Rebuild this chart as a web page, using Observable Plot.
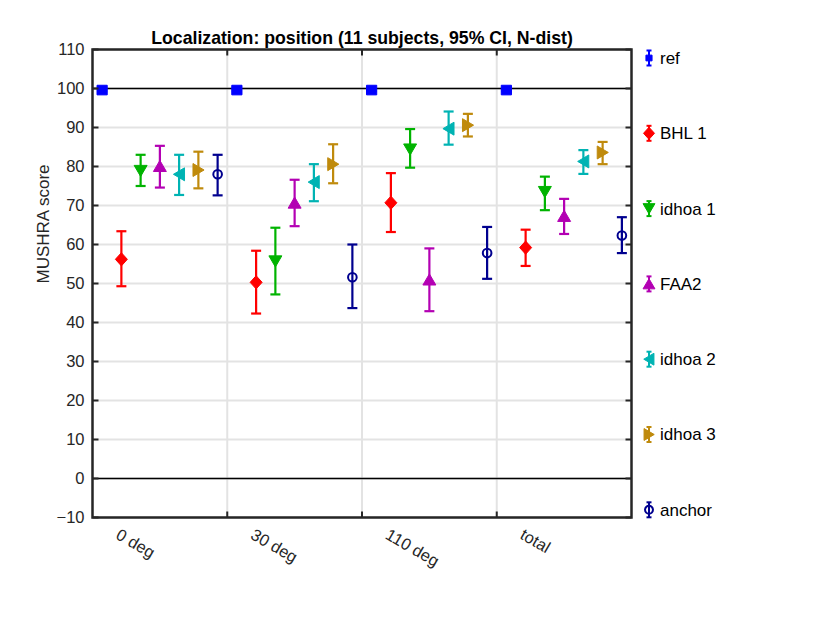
<!DOCTYPE html>
<html>
<head>
<meta charset="utf-8">
<script src="https://cdn.jsdelivr.net/npm/d3@7"></script>
<script src="https://cdn.jsdelivr.net/npm/@observablehq/plot@0.6"></script>
<style>
  html, body { margin: 0; padding: 0; background: #fff; }
  #chart svg { display: block; }
</style>
</head>
<body>
<div id="chart"></div>
<script>
// ---------- data ----------
const categories = ["0 deg", "30 deg", "110 deg", "total"];
const methods = ["ref", "BHL 1", "idhoa 1", "FAA2", "idhoa 2", "idhoa 3", "anchor"];
const colors = ["#0000ff", "#ff0000", "#00b300", "#b300b3", "#00b3b3", "#bf8a0c", "#00008f"];
const yTicks = [-10, 0, 10, 20, 30, 40, 50, 60, 70, 80, 90, 100, 110];

const refMean = [99.6, 99.6, 99.6, 99.6];
const refLo   = [99.3, 99.3, 99.3, 99.3];
const refHi   = [99.9, 99.9, 99.9, 99.9];

const bhl1Mean = [56.2, 50.3, 70.7, 59.2];
const bhl1Lo   = [49.3, 42.3, 63.2, 54.5];
const bhl1Hi   = [63.4, 58.4, 78.3, 63.8];

const idhoa1Mean = [78.9, 55.7, 84.4, 73.5];
const idhoa1Lo   = [75.0, 47.2, 79.7, 68.8];
const idhoa1Hi   = [83.0, 64.3, 89.6, 77.4];

const faa2Mean = [80.1, 70.7, 51.0, 67.3];
const faa2Lo   = [74.6, 64.7, 42.9, 62.7];
const faa2Hi   = [85.3, 76.6, 59.0, 71.7];

const idhoa2Mean = [78.0, 76.0, 89.7, 81.3];
const idhoa2Lo   = [72.7, 71.1, 85.6, 78.1];
const idhoa2Hi   = [83.0, 80.6, 94.1, 84.2];

const idhoa3Mean = [79.1, 80.6, 90.6, 83.6];
const idhoa3Lo   = [74.4, 75.7, 87.7, 80.6];
const idhoa3Hi   = [83.8, 85.7, 93.5, 86.3];

const anchorMean = [78.0, 51.6, 57.8, 62.3];
const anchorLo   = [72.6, 43.7, 51.2, 57.8];
const anchorHi   = [83.0, 60.0, 64.5, 67.0];

const series = [
  [refMean, refLo, refHi],
  [bhl1Mean, bhl1Lo, bhl1Hi],
  [idhoa1Mean, idhoa1Lo, idhoa1Hi],
  [faa2Mean, faa2Lo, faa2Hi],
  [idhoa2Mean, idhoa2Lo, idhoa2Hi],
  [idhoa3Mean, idhoa3Lo, idhoa3Hi],
  [anchorMean, anchorLo, anchorHi]
];

// ---------- symbols ----------
const poly = (pts) => ({
  draw(ctx, size) {
    const r = Math.sqrt(size / Math.PI);
    pts.forEach(([a, b], i) => i ? ctx.lineTo(a * r, b * r) : ctx.moveTo(a * r, b * r));
    ctx.closePath();
  }
});
const symSquare = poly([[-0.85, -0.8], [0.85, -0.8], [0.85, 0.8], [-0.85, 0.8]]);
const symDiamond = poly([[0, -1.1], [1.0, 0], [0, 1.1], [-1.0, 0]]);
const symTriDown = poly([[-1.08, -0.9], [1.08, -0.9], [0, 0.95]]);
const symTriUp = poly([[-1.08, 0.9], [1.08, 0.9], [0, -0.95]]);
const symTriLeft = poly([[0.9, -1.08], [0.9, 1.08], [-0.95, 0]]);
const symTriRight = poly([[-0.9, -1.08], [-0.9, 1.08], [0.95, 0]]);
const symCircle = {
  draw(ctx, size) {
    const r = Math.sqrt(size / Math.PI) * 0.72;
    ctx.moveTo(r, 0);
    ctx.arc(0, 0, r, 0, 2 * Math.PI);
  }
};
const symCap = {
  draw(ctx, size) {
    const r = Math.sqrt(size / Math.PI);
    ctx.moveTo(-r, 0);
    ctx.lineTo(r, 0);
  }
};
const tickRight = { draw(ctx, size) { const r = Math.sqrt(size / Math.PI); ctx.moveTo(0, 0); ctx.lineTo(r, 0); } };
const tickLeft  = { draw(ctx, size) { const r = Math.sqrt(size / Math.PI); ctx.moveTo(0, 0); ctx.lineTo(-r, 0); } };
const tickDown  = { draw(ctx, size) { const r = Math.sqrt(size / Math.PI); ctx.moveTo(0, 0); ctx.lineTo(0, r); } };
const tickUp    = { draw(ctx, size) { const r = Math.sqrt(size / Math.PI); ctx.moveTo(0, 0); ctx.lineTo(0, -r); } };

const symbols = [symSquare, symDiamond, symTriDown, symTriUp, symTriLeft, symTriRight, symCircle];
const filled = [true, true, true, true, true, true, false];

// ---------- rows ----------
const rows = [];
methods.forEach((m, i) => {
  const [mean, lo, hi] = series[i];
  categories.forEach((c, g) => {
    rows.push({ method: m, i, g, x: g + (i + 0.5) / methods.length, mean: mean[g], lo: lo[g], hi: hi[g] });
  });
});

const font = "'Liberation Sans', Arial, Helvetica, sans-serif";
const ink = "#262626";

const symbolMarks = methods.map((m, i) => {
  const d = rows.filter(r => r.i === i);
  return Plot.dot(d, {
    x: "x", y: "mean", symbol: symbols[i], r: 6,
    fill: filled[i] ? colors[i] : "none",
    stroke: colors[i], strokeWidth: filled[i] ? 1 : 2
  });
});

const svg = Plot.plot({
  width: 830,
  height: 623,
  marginLeft: 92,
  marginRight: 199,
  marginTop: 49,
  marginBottom: 106,
  style: { fontFamily: font, fontSize: "16.5px", color: ink, background: "#fff" },
  x: { domain: [0, 4], axis: null },
  y: { domain: [-10, 110], axis: null },
  marks: [
    Plot.gridY(yTicks, { stroke: "#e3e3e3", strokeOpacity: 1, strokeWidth: 2 }),
    Plot.gridX([1, 2, 3], { stroke: "#e3e3e3", strokeOpacity: 1, strokeWidth: 2 }),
    Plot.ruleY([0, 100], { stroke: "#000", strokeWidth: 1.6 }),
    // error bars
    Plot.ruleX(rows, { x: "x", y1: "lo", y2: "hi", stroke: d => colors[d.i], strokeWidth: 2.2 }),
    Plot.dot(rows, { x: "x", y: "lo", symbol: symCap, r: 5, fill: "none", stroke: d => colors[d.i], strokeWidth: 2.2 }),
    Plot.dot(rows, { x: "x", y: "hi", symbol: symCap, r: 5, fill: "none", stroke: d => colors[d.i], strokeWidth: 2.2 }),
    ...symbolMarks,
    // inward tick marks
    Plot.dot(yTicks, { x: 0, y: d => d, symbol: tickRight, r: 6, fill: "none", stroke: ink, strokeWidth: 2 }),
    Plot.dot(yTicks, { x: 4, y: d => d, symbol: tickLeft, r: 6, fill: "none", stroke: ink, strokeWidth: 2 }),
    Plot.dot([1, 2, 3], { x: d => d, y: -10, symbol: tickUp, r: 6, fill: "none", stroke: ink, strokeWidth: 2 }),
    Plot.dot([1, 2, 3], { x: d => d, y: 110, symbol: tickDown, r: 6, fill: "none", stroke: ink, strokeWidth: 2 }),
    Plot.frame({ stroke: ink, strokeWidth: 2.5 }),
    // y axis labels
    Plot.axisY(yTicks, { tickSize: 0, tickPadding: 8, fontSize: 16.5, label: null, fill: ink }),
    // x tick labels
    Plot.text(categories, {
      x: (d, i) => i, frameAnchor: "bottom", text: d => d,
      rotate: 30, textAnchor: "start", lineAnchor: "middle",
      dx: 25, dy: 16, fontSize: 16.5, fill: ink
    }),
    // y label
    Plot.text(["MUSHRA score"], {
      frameAnchor: "left", text: d => d, rotate: -90, lineAnchor: "middle",
      dx: -49, fontSize: 17, fill: ink
    }),
    // title
    Plot.text(["Localization: position (11 subjects, 95% CI, N-dist)"], {
      frameAnchor: "top", text: d => d, lineAnchor: "bottom",
      dy: -6, fontSize: 17.7, fontWeight: "bold", fill: "#000"
    })
  ]
});

// ---------- legend ----------
const lg = d3.select(svg).append("g").attr("class", "legend");
methods.forEach((m, i) => {
  const cy = 58 + i * 75.3;
  const cx = 649;
  const row = lg.append("g").attr("transform", `translate(${cx},${cy})`);
  const h = 7.5, c = 2.5;
  row.append("line").attr("x1", 0).attr("x2", 0).attr("y1", -h).attr("y2", h)
    .attr("stroke", colors[i]).attr("stroke-width", 2);
  row.append("line").attr("x1", -c).attr("x2", c).attr("y1", -h).attr("y2", -h)
    .attr("stroke", colors[i]).attr("stroke-width", 2);
  row.append("line").attr("x1", -c).attr("x2", c).attr("y1", h).attr("y2", h)
    .attr("stroke", colors[i]).attr("stroke-width", 2);
  const rr = i === 0 ? 3.6 : 5.5;
  row.append("path").attr("d", d3.symbol(symbols[i], Math.PI * rr * rr)())
    .attr("fill", filled[i] ? colors[i] : "none")
    .attr("stroke", colors[i]).attr("stroke-width", filled[i] ? 1 : 2);
  row.append("text").attr("x", 11).attr("y", 0).attr("dy", "0.35em")
    .attr("text-anchor", "start")
    .attr("font-size", 17).attr("font-family", font).attr("fill", "#000").text(m);
});

document.getElementById("chart").appendChild(svg);
</script>
</body>
</html>
